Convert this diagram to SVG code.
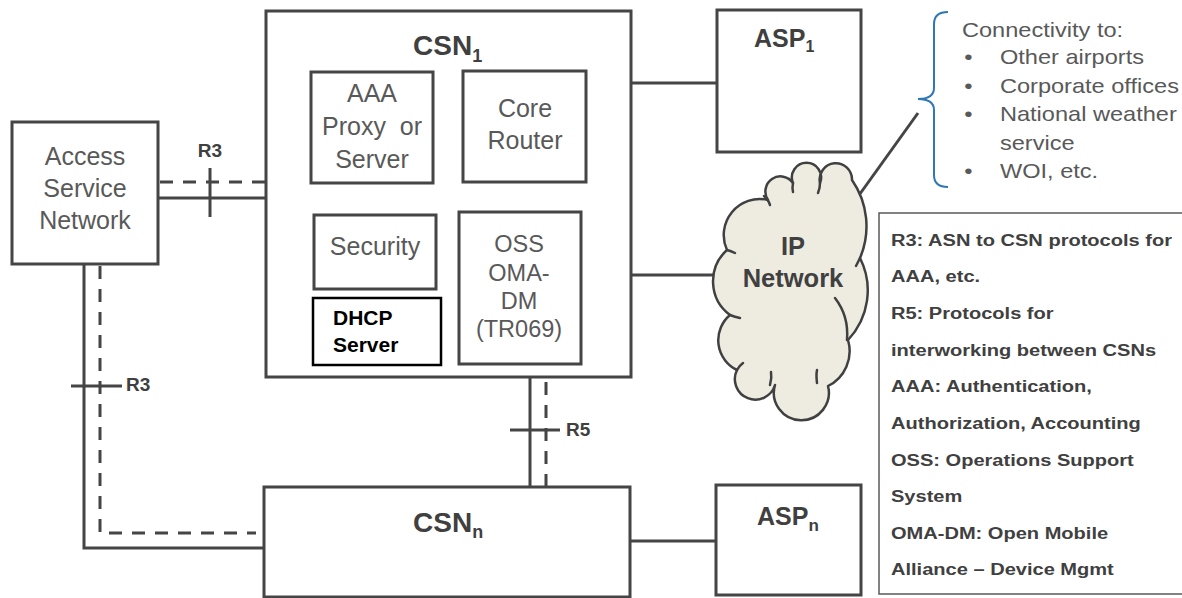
<svg xmlns="http://www.w3.org/2000/svg" width="1182" height="598" viewBox="0 0 1182 598">
  <defs>
    <style>
      .box { fill: #ffffff; stroke: #454545; stroke-width: 3; }
      .ln { fill: none; stroke: #454545; stroke-width: 3; }
      .dash { stroke-dasharray: 13 10; }
      .tx { font-family: "Liberation Sans", Arial, sans-serif; fill: #595959; }
      .lbl { font-size: 25px; text-anchor: middle; }
      .bold { font-weight: bold; fill: #404040; }
      .head { font-size: 28px; }
      .sub { font-size: 18px; }
      .tag { font-size: 19px; font-weight: bold; fill: #404040; }
      .cloud { fill: #eeece1; stroke: #404040; stroke-width: 2.5; stroke-linejoin: round; }
      .cloud-in { fill: none; stroke: #404040; stroke-width: 2.5; stroke-linecap: round; }
    </style>
  </defs>
  <rect width="1182" height="598" fill="#ffffff"/>

  <!-- connectors -->
  <g id="connectors">
    <!-- R3 between ASN and CSN1 -->
    <line class="ln" x1="158" y1="198" x2="266" y2="198"/>
    <line class="ln dash" x1="160" y1="182" x2="266" y2="182"/>
    <line class="ln" x1="210" y1="168" x2="210" y2="217"/>
    <text class="tx tag" x="210" y="157" text-anchor="middle">R3</text>

    <!-- R3 between ASN and CSNn -->
    <polyline class="ln" points="84,264 84,548 264,548"/>
    <polyline class="ln dash" points="100,266 100,533 256,533"/>
    <line class="ln" x1="71" y1="386" x2="122" y2="386"/>
    <text class="tx tag" x="126" y="391">R3</text>

    <!-- R5 between CSN1 and CSNn -->
    <line class="ln" x1="530" y1="377" x2="530" y2="487"/>
    <line class="ln dash" x1="546" y1="382" x2="546" y2="487"/>
    <line class="ln" x1="510" y1="430" x2="560" y2="430"/>
    <text class="tx tag" x="566" y="436">R5</text>

    <!-- CSN1 to ASP1 and IP network -->
    <line class="ln" x1="631" y1="83" x2="717" y2="83"/>
    <line class="ln" x1="631" y1="275" x2="715" y2="275"/>
    <!-- CSNn to ASPn -->
    <line class="ln" x1="630" y1="541" x2="716" y2="541"/>
    <!-- IP network to connectivity note -->
    <line class="ln" x1="857" y1="198" x2="918" y2="113"/>
  </g>

  <!-- Access Service Network -->
  <g id="asn">
    <rect class="box" x="12" y="122" width="146" height="142"/>
    <text class="tx lbl" x="85" y="165">Access</text>
    <text class="tx lbl" x="85" y="197">Service</text>
    <text class="tx lbl" x="85" y="229">Network</text>
  </g>

  <!-- CSN 1 with its functions -->
  <g id="csn1">
    <rect class="box" x="266" y="11" width="365" height="366"/>
    <text class="tx bold head" x="413" y="55">CSN<tspan class="sub" dy="7">1</tspan></text>

    <g id="aaa">
      <rect class="box" x="311" y="72" width="122" height="111"/>
      <text class="tx lbl" x="372" y="102">AAA</text>
      <text class="tx lbl" x="372" y="135" style="white-space:pre">Proxy  or</text>
      <text class="tx lbl" x="372" y="168">Server</text>
    </g>
    <g id="core-router">
      <rect class="box" x="463" y="71" width="123" height="111"/>
      <text class="tx lbl" x="525" y="117">Core</text>
      <text class="tx lbl" x="525" y="149">Router</text>
    </g>
    <g id="security">
      <rect class="box" x="314" y="215" width="122" height="74"/>
      <text class="tx lbl" x="375" y="255">Security</text>
    </g>
    <g id="dhcp">
      <rect x="313" y="298" width="128" height="67" fill="#ffffff" stroke="#000000" stroke-width="2.5"/>
      <text class="tx" x="333" y="325" font-size="21" font-weight="bold" fill="#000000" style="fill:#000000">DHCP</text>
      <text class="tx" x="333" y="352" font-size="21" font-weight="bold" fill="#000000" style="fill:#000000">Server</text>
    </g>
    <g id="oss">
      <rect class="box" x="459" y="212" width="122" height="152"/>
      <text class="tx" x="519" y="252" font-size="23.5" text-anchor="middle">OSS</text>
      <text class="tx" x="519" y="281" font-size="23.5" text-anchor="middle">OMA-</text>
      <text class="tx" x="519" y="309" font-size="23.5" text-anchor="middle">DM</text>
      <text class="tx" x="519" y="337" font-size="23.5" text-anchor="middle">(TR069)</text>
    </g>
  </g>

  <!-- ASP 1 -->
  <g id="asp1">
    <rect class="box" x="717" y="10" width="144" height="142"/>
    <text class="tx bold" x="754" y="47" font-size="25">ASP<tspan font-size="16" dy="5">1</tspan></text>
  </g>

  <!-- CSN n -->
  <g id="csnn">
    <rect class="box" x="264" y="487" width="366" height="110"/>
    <text class="tx bold head" x="413" y="532">CSN<tspan class="sub" dy="6">n</tspan></text>
  </g>

  <!-- ASP n -->
  <g id="aspn">
    <rect class="box" x="716" y="485" width="145" height="110"/>
    <text class="tx bold" x="757" y="525" font-size="25">ASP<tspan font-size="17" dy="6">n</tspan></text>
  </g>

  <!-- IP network cloud -->
  <g id="ip-network">
    <path class="cloud" d="M730,315
      A42,42 0 0 1 727,250
      A36,36 0 0 1 768,200
      A15,15 0 0 1 793,183
      A14.6,14.6 0 1 1 820,183
      A16.2,16.2 0 1 1 852,180
      A81,81 0 0 1 860,258
      A72,72 0 0 1 848,340
      A39,39 0 0 1 828,386
      A27.5,27.5 0 1 1 775,385
      A20.5,20.5 0 1 1 737,370
      A33,33 0 0 1 730,315 Z"/>
    <path class="cloud-in" d="M764,196 Q768,199 770,205"/>
    <path class="cloud-in" d="M793,183 Q792,188 793,192"/>
    <path class="cloud-in" d="M820,183 Q820,188 818,193"/>
    <path class="cloud-in" d="M860,258 Q858,262 856,266"/>
    <path class="cloud-in" d="M835,298 Q849,316 847,340"/>
    <path class="cloud-in" d="M817,383 Q816,375 817,370"/>
    <path class="cloud-in" d="M770,385 Q772,378 771,372"/>
    <path class="cloud-in" d="M737,370 Q739,366 743,363"/>
    <path class="cloud-in" d="M730,315 Q735,317 740,318"/>
    <path class="cloud-in" d="M727,250 Q731,251 735,253"/>
    <text class="tx bold" x="793" y="255" font-size="25.5" text-anchor="middle">IP</text>
    <text class="tx bold" x="793" y="287" font-size="25.5" text-anchor="middle">Network</text>
  </g>

  <!-- connectivity note with brace -->
  <g id="connectivity-note">
    <path d="M948,12 Q934,12 934,24 L934,88 Q934,99 918,99 Q934,99 934,110 L934,175 Q934,187 948,187" fill="none" stroke="#2f78b4" stroke-width="2"/>
    <g transform="translate(962 0) scale(1.15 1)" class="tx" font-size="20.5">
      <text x="0" y="37">Connectivity to:</text>
      <text x="2" y="64.5">•</text>
      <text x="33" y="64.5">Other airports</text>
      <text x="2" y="93">•</text>
      <text x="33" y="93">Corporate offices</text>
      <text x="2" y="121.5">•</text>
      <text x="33" y="121.5">National weather</text>
      <text x="33" y="150">service</text>
      <text x="2" y="178.5">•</text>
      <text x="33" y="178.5">WOI, etc.</text>
    </g>
  </g>

  <!-- abbreviations legend -->
  <g id="legend">
    <rect x="879" y="213" width="304" height="381" fill="#ffffff" stroke="#595959" stroke-width="1.5"/>
    <g transform="translate(891 0) scale(1.18 1)" class="tx bold" font-size="17">
      <text x="0" y="246">R3: ASN to CSN protocols for</text>
      <text x="0" y="282.5">AAA, etc.</text>
      <text x="0" y="319.5">R5: Protocols for</text>
      <text x="0" y="356">interworking between CSNs</text>
      <text x="0" y="392.5">AAA: Authentication,</text>
      <text x="0" y="429">Authorization, Accounting</text>
      <text x="0" y="466">OSS: Operations Support</text>
      <text x="0" y="502.5">System</text>
      <text x="0" y="539">OMA-DM: Open Mobile</text>
      <text x="0" y="575.5">Alliance – Device Mgmt</text>
    </g>
  </g>
</svg>
